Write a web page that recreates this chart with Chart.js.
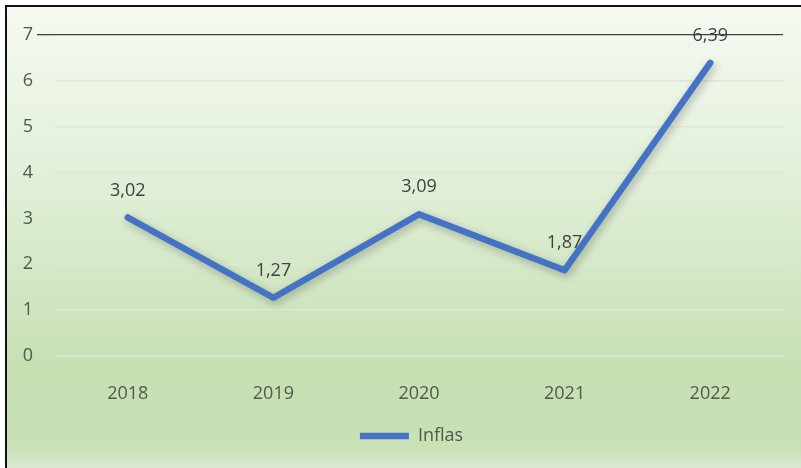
<!DOCTYPE html>
<html>
<head>
<meta charset="utf-8">
<script src="https://cdn.jsdelivr.net/npm/chart.js@4.4.0/dist/chart.umd.min.js"></script>
<style>
  html, body { margin: 0; padding: 0; background: #fff; }
  #wrap { width: 801px; height: 468px; position: relative; }
</style>
</head>
<body>
<div id="wrap"><canvas id="c" width="801" height="468"></canvas></div>
<script>
const categories = ['2018', '2019', '2020', '2021', '2022'];
const inflasValues = [3.02, 1.27, 3.09, 1.87, 6.39];
const seriesName = 'Inflas';
const yMin = 0, yMax = 7, yStep = 1;

const FONT = '"Open Sans", "DejaVu Sans", sans-serif';
const TEXT = '#4f5a49';

const bgPlugin = {
  id: 'bg',
  beforeDraw(chart) {
    const ctx = chart.ctx;
    const W = chart.width, H = chart.height;
    ctx.save();
    ctx.fillStyle = '#ffffff';
    ctx.fillRect(0, 0, W, H);
    const g = ctx.createLinearGradient(0, 5, 0, H);
    g.addColorStop(0, '#f6faf3');
    g.addColorStop(0.4, '#e0eed6');
    g.addColorStop(0.78, '#c6e0b4');
    g.addColorStop(0.96, '#c8e1b7');
    g.addColorStop(1, '#dbe9d2');
    ctx.fillStyle = g;
    ctx.fillRect(5, 5, W - 5, H - 5);
    ctx.fillStyle = '#111';
    ctx.fillRect(5, 5, 2, H - 5);
    ctx.fillRect(5, 5, W - 5, 2);
    ctx.restore();
  }
};

// centre the legend under the plot area rather than the whole canvas
const legendShift = {
  id: 'legendShift',
  afterLayout(chart) {
    if (chart.legend) chart.legend.left = chart.legend.left + 40;
  }
};

const shadowPlugin = {
  id: 'shadow',
  beforeDatasetsDraw(chart) {
    const ctx = chart.ctx;
    ctx.save();
    ctx.shadowColor = 'rgba(0,0,0,0.28)';
    ctx.shadowBlur = 8;
    ctx.shadowOffsetX = 2;
    ctx.shadowOffsetY = 3;
  },
  afterDatasetsDraw(chart) {
    chart.ctx.restore();
  }
};

const labelPlugin = {
  id: 'valueLabels',
  afterDatasetsDraw(chart) {
    const ctx = chart.ctx;
    const meta = chart.getDatasetMeta(0);
    ctx.save();
    ctx.font = '18px ' + FONT;
    ctx.fillStyle = '#404040';
    ctx.textAlign = 'center';
    ctx.textBaseline = 'middle';
    meta.data.forEach((pt, i) => {
      const v = chart.data.datasets[0].data[i];
      ctx.fillText(v.toFixed(2).replace('.', ','), pt.x, pt.y - 27);
    });
    ctx.restore();
  }
};

new Chart(document.getElementById('c'), {
  type: 'line',
  data: {
    labels: categories,
    datasets: [{
      label: seriesName,
      data: inflasValues,
      borderColor: '#4472C4',
      backgroundColor: '#4472C4',
      borderWidth: 6.5,
      borderCapStyle: 'round',
      borderJoinStyle: 'round',
      pointRadius: 0,
      pointHoverRadius: 0,
      tension: 0,
      fill: false
    }]
  },
  options: {
    responsive: false,
    animation: false,
    events: [],
    layout: { padding: { top: 35, right: 18, bottom: 13, left: 0 } },
    plugins: {
      tooltip: { enabled: false },
      legend: {
        position: 'bottom',
        labels: {
          usePointStyle: true,
          pointStyle: 'line',
          pointStyleWidth: 49,
          boxHeight: 6,
          padding: 10,
          color: TEXT,
          font: { family: FONT, size: 18 }
        }
      }
    },
    scales: {
      x: {
        offset: true,
        grid: { display: false },
        border: { display: false },
        ticks: { color: TEXT, font: { family: FONT, size: 18 }, padding: 19 },
        afterFit(scale) { scale.height = 61; }
      },
      y: {
        min: yMin,
        max: yMax,
        border: { display: false },
        grid: {
          color: (c) => c.tick && c.tick.value === yMax ? '#404040' : '#dde7d5',
          lineWidth: (c) => c.tick && c.tick.value === yMax ? 1.3 : 1.5,
          tickLength: 18,
          tickColor: (c) => c.tick && c.tick.value === yMax ? '#404040' : 'rgba(0,0,0,0)'
        },
        ticks: { stepSize: yStep, color: TEXT, font: { family: FONT, size: 18 }, padding: 4 },
        afterFit(scale) { scale.width = 55; }
      }
    }
  },
  plugins: [bgPlugin, legendShift, shadowPlugin, labelPlugin]
});
</script>
</body>
</html>
